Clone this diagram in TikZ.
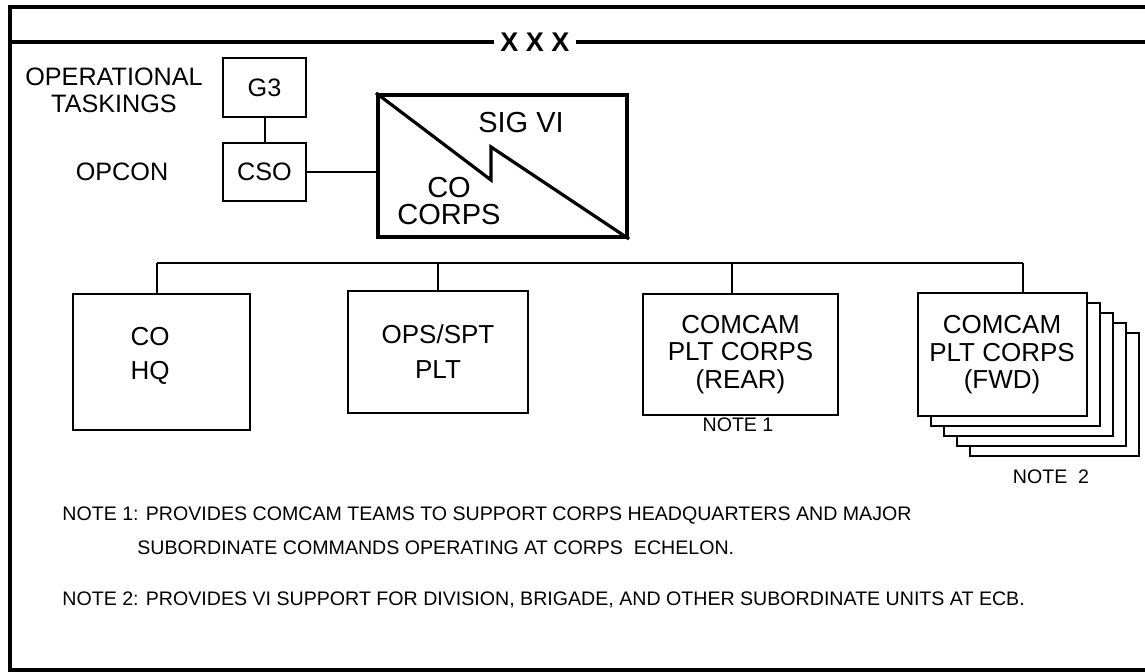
\documentclass[tikz,border=0pt]{standalone}
\usepackage{fontspec}
\setmainfont{Liberation Sans}
\usetikzlibrary{positioning, calc}
\tikzset{
    % Box styles
    unitbox/.style={
        rectangle,
        draw=black,
        fill=white,
        line width=1pt,
        inner sep=0pt,
        align=center,
        font=\fontsize{13}{13.8}\selectfont
    },
    cmdbox/.style={
        rectangle,
        draw=black,
        line width=2pt,
        inner sep=0pt,
        minimum width=124.5pt,
        minimum height=71pt
    },
    label/.style={
        inner sep=0pt,
        align=center,
        font=\fontsize{12.6}{13.5}\selectfont
    },
    notetext/.style={
        inner sep=0pt,
        anchor=west,
        font=\fontsize{9.8}{11}\selectfont
    },
    % Line styles
    link/.style={
        draw=black,
        line width=1pt
    },
    frame/.style={
        draw=black,
        line width=2pt
    }
}

\begin{document}
\begin{tikzpicture}[x=0.5pt, y=-0.5pt]
    \useasboundingbox (0,0) rectangle (1145,672);

    % Outer frame with title bar
    \draw[frame] (1145,7) -- (10,7) -- (10,670) -- (1145,670);
    \node[label, font=\bfseries\fontsize{13.5}{14}\selectfont, fill=white, inner xsep=3pt] (xxx) at (535,42) {X X X};
    \draw[frame] (10,42) -- (xxx.west);
    \draw[frame] (xxx.east) -- (1145,42);

    % Command chain
    \node[label] (optask) at (114,90.5) {OPERATIONAL\\TASKINGS};
    \node[label] (opcon) at (122,172) {OPCON};
    \node[unitbox, font=\fontsize{12.6}{13.5}\selectfont, minimum width=41.5pt, minimum height=29.5pt] (g3) at (264.5,87.5) {G3};
    \node[unitbox, font=\fontsize{12.6}{13.5}\selectfont, minimum width=41.5pt, minimum height=29pt] (cso) at (264.5,172) {CSO};
    \node[cmdbox] (sigvi) at (502.5,166) {};
    \draw[line width=1.6pt] (sigvi.north west) -- ++(115,87) -- ++(0,-33) -- (sigvi.south east);
    \node[label, font=\fontsize{14.5}{14}\selectfont] (sigtxt) at (521,123) {SIG VI};
    \node[label, font=\fontsize{14.5}{13.5}\selectfont] (cotxt) at (449,201.5) {CO\\CORPS};

    \draw[link] (g3) -- (cso);
    \draw[link] (cso) -- (sigvi.west |- cso.east);

    % Subordinate units
    \node[unitbox, minimum width=88.5pt, minimum height=68pt] (cohq) at (161.5,362) {};
    \node[label, font=\fontsize{13}{17}\selectfont] (cohqtxt) at (150,356) {CO\\HQ};
    \node[unitbox, font=\fontsize{13}{17.5}\selectfont, minimum width=90pt, minimum height=61pt] (opsspt) at (438,352) {OPS/SPT\\PLT};
    \node[unitbox, minimum width=97.5pt, minimum height=60.5pt] (rear) at (740.5,354.5) {COMCAM\\PLT CORPS\\(REAR)};
    \foreach \k in {4,3,2,1}
        \node[unitbox, minimum width=84.5pt, minimum height=61.5pt] (fwd\k) at ($(1002,355)+(13*\k,10*\k)$) {};
    \node[unitbox, minimum width=84.5pt, minimum height=61.5pt] (fwd) at (1002,355) {COMCAM\\PLT CORPS\\(FWD)};

    \node[label, font=\fontsize{9.8}{11}\selectfont] (note1) at (738,425) {NOTE 1};
    \node[label, font=\fontsize{9.8}{11}\selectfont] (note2) at (1051,477) {NOTE\ \ 2};

    % Bus
    \coordinate (busa) at (157,263);
    \coordinate (busb) at (438,263);
    \coordinate (busc) at (732,263);
    \coordinate (busd) at (1023,263);
    \draw[link] (busa) -- (busd);
    \draw[link] (busa) -- (busa |- cohq.north);
    \draw[link] (busb) -- (busb |- opsspt.north);
    \draw[link] (busc) -- (busc |- rear.north);
    \draw[link] (busd) -- (busd |- fwd.north);

    % Notes
    \node[notetext] (n1a) at (62,516) {NOTE 1: PROVIDES COMCAM TEAMS TO SUPPORT CORPS HEADQUARTERS AND MAJOR};
    \node[notetext] (n1b) at (137,548) {SUBORDINATE COMMANDS OPERATING AT CORPS\ \ ECHELON.};
    \node[notetext] (n2) at (62,600) {NOTE 2: PROVIDES VI SUPPORT FOR DIVISION, BRIGADE, AND OTHER SUBORDINATE UNITS AT ECB.};
\end{tikzpicture}
\end{document}
